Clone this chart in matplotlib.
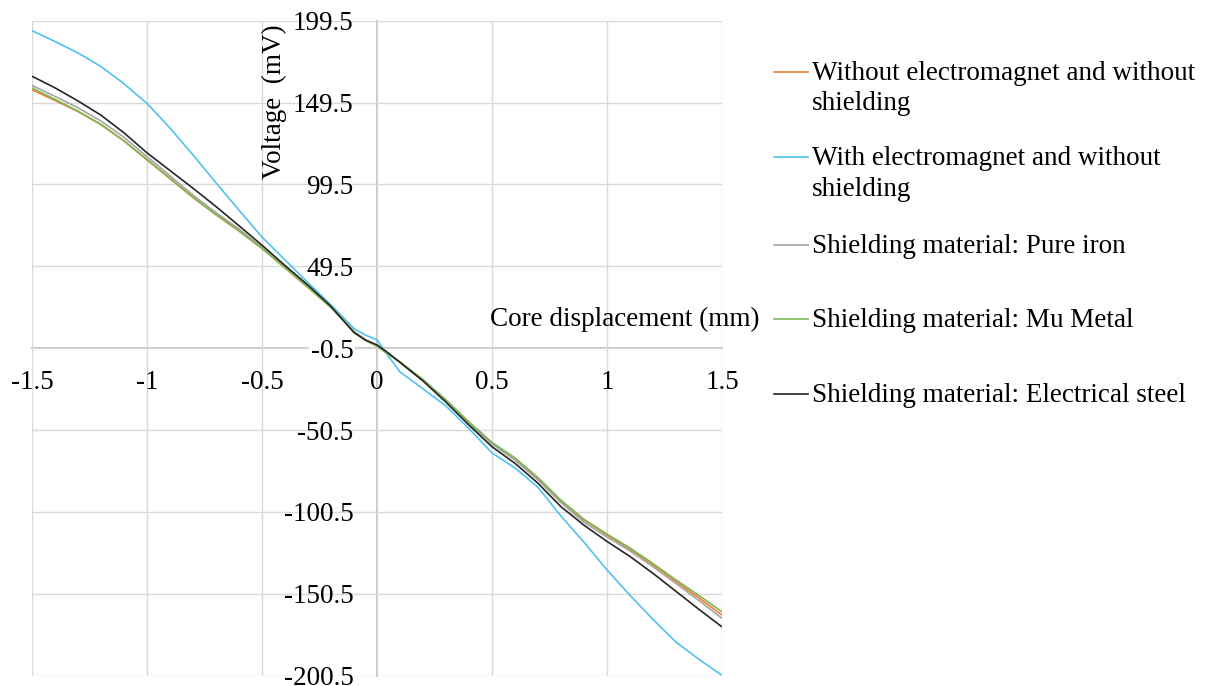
import numpy as np
import matplotlib.pyplot as plt
from matplotlib.lines import Line2D

plt.rcParams['font.family'] = ['Liberation Serif', 'DejaVu Serif']
plt.rcParams['axes.unicode_minus'] = False

# core displacement (mm)
disp = [-1.5, -1.4, -1.3, -1.2, -1.1, -1.0, -0.9, -0.8, -0.7, -0.6, -0.5, -0.4, -0.3, -0.2,
        -0.1, -0.05, 0.0, 0.05, 0.1, 0.2, 0.3, 0.4, 0.5, 0.6, 0.7, 0.8, 0.9, 1.0, 1.1, 1.2,
        1.3, 1.4, 1.5]

# output voltage (mV) for each configuration
v_no_em = [157.3, 150.8, 144.0, 136.0, 126.0, 114.5, 103.0, 91.5, 81.0, 71.0, 60.4, 48.5, 36.5,
           24.5, 9.5, 4.3, 0.8, -4.2, -9.0, -20.0, -32.5, -46.0, -58.5, -68.3, -80.2, -93.8,
           -105.5, -114.6, -123.2, -132.8, -143.0, -153.0, -163.5]
v_em = [193.4, 186.8, 179.8, 171.5, 161.0, 149.0, 134.0, 117.5, 100.5, 83.8, 67.4, 53.4, 39.5,
        26.0, 11.5, 7.5, 4.6, -5.5, -15.0, -25.3, -35.8, -49.6, -64.5, -73.6, -85.5, -103.0,
        -119.0, -135.9, -151.4, -166.1, -180.0, -190.5, -200.3]
v_iron = [160.0, 153.3, 146.3, 138.2, 128.3, 116.5, 104.8, 93.0, 82.3, 72.3, 61.0, 49.0, 37.0,
          24.8, 9.8, 4.6, 1.0, -4.0, -9.0, -19.8, -32.8, -46.5, -59.0, -68.8, -81.0, -94.8,
          -106.8, -115.8, -124.3, -134.0, -144.2, -154.6, -165.5]
v_mu = [158.5, 151.5, 144.3, 136.2, 126.2, 114.8, 103.3, 91.8, 81.2, 71.2, 60.5, 48.6, 36.8,
        24.3, 9.6, 4.4, 0.7, -4.3, -8.8, -19.6, -32.0, -45.5, -58.0, -67.5, -79.5, -93.3,
        -105.0, -114.0, -122.5, -132.0, -142.0, -151.5, -161.5]
v_steel = [165.6, 158.5, 150.5, 141.8, 131.0, 118.8, 108.0, 97.2, 86.0, 74.3, 62.4, 50.0, 38.0,
           25.0, 9.0, 4.5, 1.5, -3.5, -9.2, -20.5, -33.5, -47.5, -60.7, -70.8, -83.0, -97.3,
           -108.6, -118.5, -127.7, -138.0, -149.0, -160.0, -170.7]

labels = ['Without electromagnet and without\nshielding',
          'With electromagnet and without\nshielding',
          'Shielding material: Pure iron',
          'Shielding material: Mu Metal',
          'Shielding material: Electrical steel']
colors = ['#ED7D31', '#4EC3F0', '#A5A5A5', '#7DB955', '#262626']
series = [v_no_em, v_em, v_iron, v_mu, v_steel]

x_ticks = [-1.5, -1.0, -0.5, 0.0, 0.5, 1.0, 1.5]
x_ticklabels = ['-1.5', '-1', '-0.5', '0', '0.5', '1', '1.5']
y_ticks = [199.5, 149.5, 99.5, 49.5, -0.5, -50.5, -100.5, -150.5, -200.5]
y_ticklabels = ['199.5', '149.5', '99.5', '49.5', '-0.5', '-50.5', '-100.5', '-150.5', '-200.5']

fs = 19.5
W, H = 1207, 686
fig = plt.figure(figsize=(W / 100, H / 100), dpi=100)
ax = fig.add_axes([32 / W, 1 - 675.7 / H, 690 / W, 655 / H])

for v, c in zip(series, colors):
    ax.plot(disp, v, color=c, lw=1.2, solid_capstyle='butt')

ax.set_xlim(-1.5, 1.5)
ax.set_ylim(-200.5, 199.5)
ax.set_xticks(x_ticks)
ax.set_xticklabels(x_ticklabels)
ax.set_yticks(y_ticks)
ax.set_yticklabels(y_ticklabels)
ax.grid(True, color='#D9D9D9', lw=1.0)
ax.set_axisbelow(True)

for s in ['top', 'right']:
    ax.spines[s].set_visible(False)
ax.spines['left'].set_position(('data', 0))
ax.spines['bottom'].set_position(('data', -0.5))
for s in ['left', 'bottom']:
    ax.spines[s].set_color('#BFBFBF')
    ax.spines[s].set_linewidth(1.3)
    ax.spines[s].set_zorder(0.5)

ax.tick_params(axis='both', length=0, labelsize=fs, colors='black')
ax.tick_params(axis='x', pad=16)
ax.tick_params(axis='y', pad=17)
for lab in ax.get_yticklabels():
    if lab.get_text() == '-0.5':
        lab.set_bbox(dict(facecolor='white', edgecolor='none', pad=1))

ax.set_ylabel('Voltage  (mV)', fontsize=fs)
ax.yaxis.set_label_coords(242 / 690, 1 - 81 / 655)
ax.yaxis.label.set_va('center')
ax.set_xlabel('Core displacement (mm)', fontsize=fs)
ax.xaxis.set_label_coords(593 / 690, 1 - 299 / 655)
ax.xaxis.label.set_va('center')

# legend on the right; first-line baselines in pixels, 30.5 px per extra line
baselines = [79.5, 165, 253, 327, 401.7]
for lab, c, b in zip(labels, colors, baselines):
    yl = 1 - (b - 8) / H
    fig.add_artist(Line2D([774 / W, 808 / W], [yl, yl], color=c, lw=1.2))
    last = b + 30.5 * lab.count('\n')
    fig.text(812 / W, 1 - last / H, lab, fontsize=fs, va='baseline', ha='left',
             linespacing=1.27)

fig.savefig('out.png', dpi=100)
